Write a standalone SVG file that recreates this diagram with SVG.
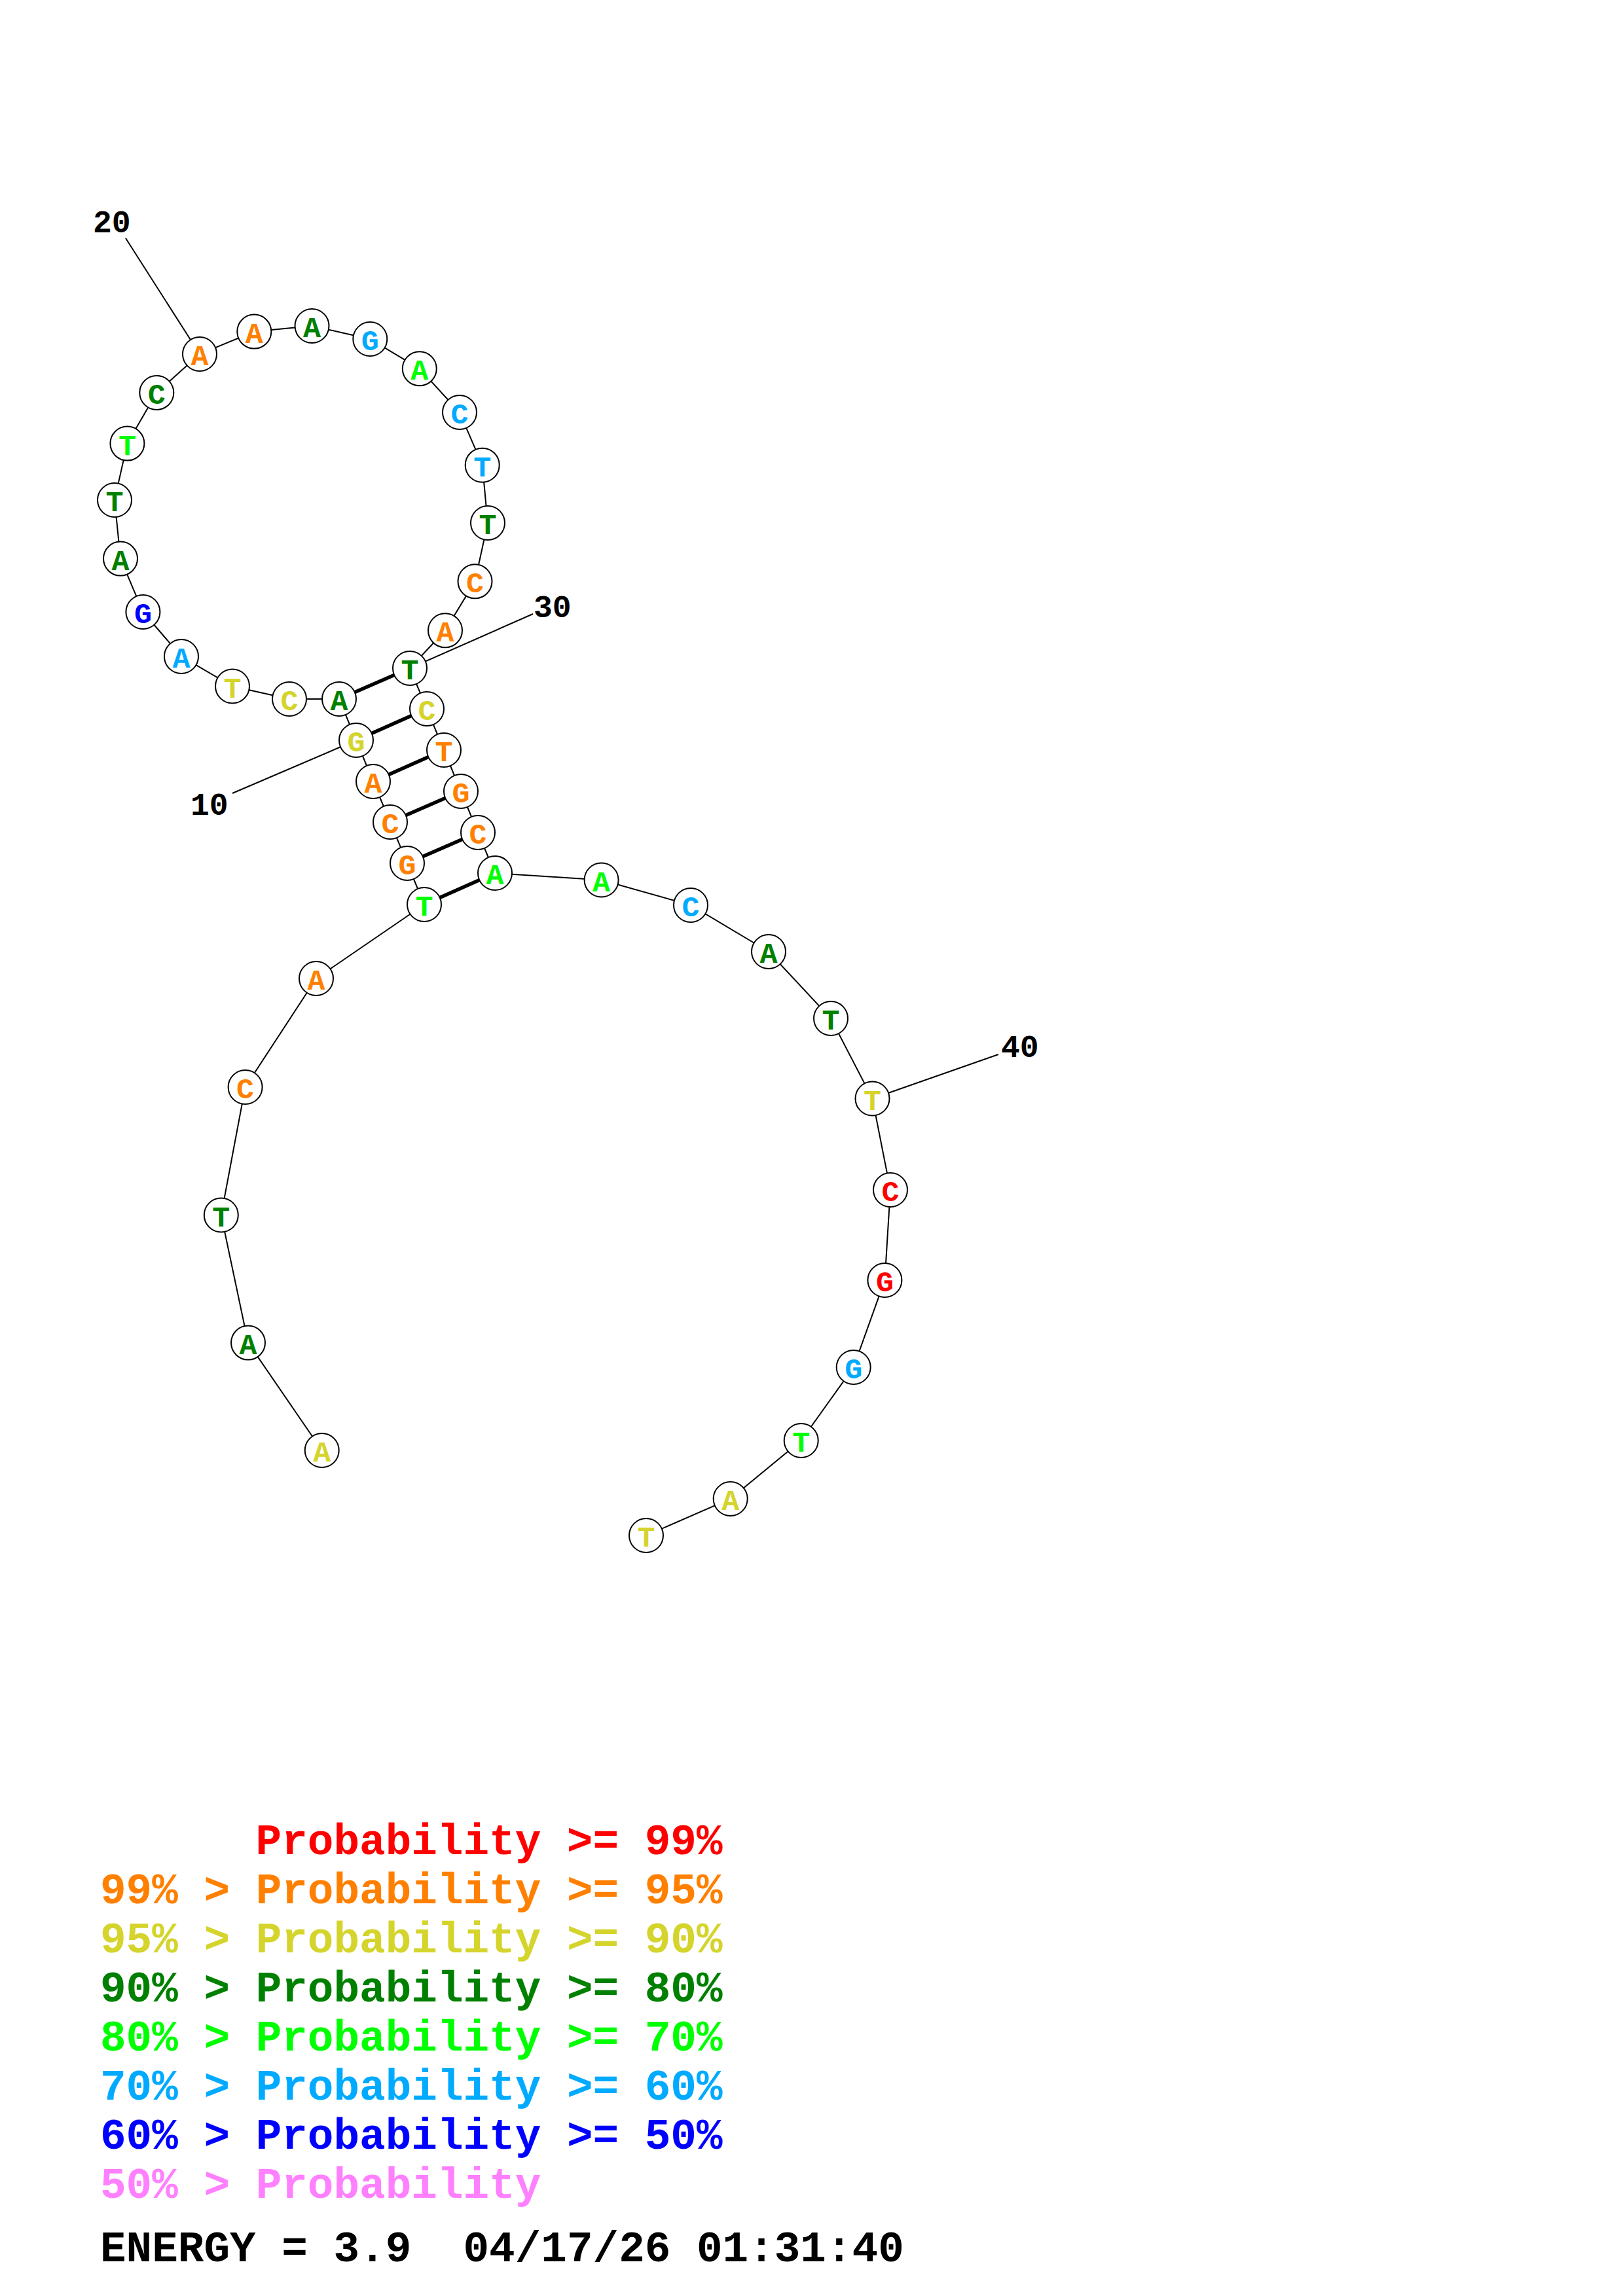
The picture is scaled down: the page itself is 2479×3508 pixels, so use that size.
<svg xmlns="http://www.w3.org/2000/svg" width="2479" height="3508" viewBox="0 0 2479 3508">
<style>
.bb{stroke:#000;stroke-width:2;fill:none}
.pr{stroke:#000;stroke-width:5.5;fill:none}
.lb{stroke:#000;stroke-width:2;fill:none}
.nd circle{fill:#fff;stroke:#000;stroke-width:2}
.nd text{font-family:"Liberation Mono","DejaVu Sans Mono",monospace;font-weight:bold;font-size:45px;text-anchor:middle}
.num{font-family:"Liberation Mono","DejaVu Sans Mono",monospace;font-weight:bold;font-size:48px;fill:#000}
.lg text{font-family:"Liberation Mono","DejaVu Sans Mono",monospace;font-weight:bold;font-size:66px;white-space:pre}
.R{fill:#ff0000}.O{fill:#ff8000}.Y{fill:#d4d42c}.G{fill:#008000}.L{fill:#00ff00}.S{fill:#00aaff}.B{fill:#0000ff}.P{fill:#ff80ff}.K{fill:#000}
</style>
<rect width="2479" height="3508" fill="#fff"/>
<g id="connectors">
<polyline class="bb" points="491.7,2216 379,2051.6 337.8,1856.5 374.6,1661 483,1495 648,1382 622,1319 596,1256 570,1194 544,1131 518,1068 442,1068 355,1048.5 277,1003 218.4,935 184,853.6 175,764 194.4,677.6 239.3,600 305,541 388.3,506.6 476.5,498 565.3,518 640.8,563.3 702,630 736.7,710.7 745,799 725.5,888.3 680,963.3 626,1021 652,1083 678,1146 704,1209 730,1272 756,1334 918.6,1344.5 1055,1383 1174,1454 1269,1556 1332.5,1678.5 1360,1818 1351.4,1956 1303.7,2089 1223.7,2201 1115.7,2290 987,2346"/>
<line class="pr" x1="648" y1="1382" x2="756" y2="1334"/>
<line class="pr" x1="622" y1="1319" x2="730" y2="1272"/>
<line class="pr" x1="596" y1="1256" x2="704" y2="1209"/>
<line class="pr" x1="570" y1="1194" x2="678" y2="1146"/>
<line class="pr" x1="544" y1="1131" x2="652" y2="1083"/>
<line class="pr" x1="518" y1="1068" x2="626" y2="1021"/>
<line class="lb" x1="544" y1="1131" x2="355" y2="1212"/>
<line class="lb" x1="305" y1="541" x2="192" y2="364"/>
<line class="lb" x1="626" y1="1021" x2="814" y2="938"/>
<line class="lb" x1="1332.5" y1="1678.5" x2="1525" y2="1611"/>
</g>
<g id="labels">
<text class="num" x="291" y="1245">10</text>
<text class="num" x="142" y="355">20</text>
<text class="num" x="815" y="943">30</text>
<text class="num" x="1529" y="1615">40</text>
</g>
<g id="nodes">
<g id="n1" class="nd"><circle cx="491.7" cy="2216" r="26"/><text class="Y" x="491.7" y="2233">A</text></g>
<g id="n2" class="nd"><circle cx="379" cy="2051.6" r="26"/><text class="G" x="379" y="2068.6">A</text></g>
<g id="n3" class="nd"><circle cx="337.8" cy="1856.5" r="26"/><text class="G" x="337.8" y="1873.5">T</text></g>
<g id="n4" class="nd"><circle cx="374.6" cy="1661" r="26"/><text class="O" x="374.6" y="1678">C</text></g>
<g id="n5" class="nd"><circle cx="483" cy="1495" r="26"/><text class="O" x="483" y="1512">A</text></g>
<g id="n6" class="nd"><circle cx="648" cy="1382" r="26"/><text class="L" x="648" y="1399">T</text></g>
<g id="n7" class="nd"><circle cx="622" cy="1319" r="26"/><text class="O" x="622" y="1336">G</text></g>
<g id="n8" class="nd"><circle cx="596" cy="1256" r="26"/><text class="O" x="596" y="1273">C</text></g>
<g id="n9" class="nd"><circle cx="570" cy="1194" r="26"/><text class="O" x="570" y="1211">A</text></g>
<g id="n10" class="nd"><circle cx="544" cy="1131" r="26"/><text class="Y" x="544" y="1148">G</text></g>
<g id="n11" class="nd"><circle cx="518" cy="1068" r="26"/><text class="G" x="518" y="1085">A</text></g>
<g id="n12" class="nd"><circle cx="442" cy="1068" r="26"/><text class="Y" x="442" y="1085">C</text></g>
<g id="n13" class="nd"><circle cx="355" cy="1048.5" r="26"/><text class="Y" x="355" y="1065.5">T</text></g>
<g id="n14" class="nd"><circle cx="277" cy="1003" r="26"/><text class="S" x="277" y="1020">A</text></g>
<g id="n15" class="nd"><circle cx="218.4" cy="935" r="26"/><text class="B" x="218.4" y="952">G</text></g>
<g id="n16" class="nd"><circle cx="184" cy="853.6" r="26"/><text class="G" x="184" y="870.6">A</text></g>
<g id="n17" class="nd"><circle cx="175" cy="764" r="26"/><text class="G" x="175" y="781">T</text></g>
<g id="n18" class="nd"><circle cx="194.4" cy="677.6" r="26"/><text class="L" x="194.4" y="694.6">T</text></g>
<g id="n19" class="nd"><circle cx="239.3" cy="600" r="26"/><text class="G" x="239.3" y="617">C</text></g>
<g id="n20" class="nd"><circle cx="305" cy="541" r="26"/><text class="O" x="305" y="558">A</text></g>
<g id="n21" class="nd"><circle cx="388.3" cy="506.6" r="26"/><text class="O" x="388.3" y="523.6">A</text></g>
<g id="n22" class="nd"><circle cx="476.5" cy="498" r="26"/><text class="G" x="476.5" y="515">A</text></g>
<g id="n23" class="nd"><circle cx="565.3" cy="518" r="26"/><text class="S" x="565.3" y="535">G</text></g>
<g id="n24" class="nd"><circle cx="640.8" cy="563.3" r="26"/><text class="L" x="640.8" y="580.3">A</text></g>
<g id="n25" class="nd"><circle cx="702" cy="630" r="26"/><text class="S" x="702" y="647">C</text></g>
<g id="n26" class="nd"><circle cx="736.7" cy="710.7" r="26"/><text class="S" x="736.7" y="727.7">T</text></g>
<g id="n27" class="nd"><circle cx="745" cy="799" r="26"/><text class="G" x="745" y="816">T</text></g>
<g id="n28" class="nd"><circle cx="725.5" cy="888.3" r="26"/><text class="O" x="725.5" y="905.3">C</text></g>
<g id="n29" class="nd"><circle cx="680" cy="963.3" r="26"/><text class="O" x="680" y="980.3">A</text></g>
<g id="n30" class="nd"><circle cx="626" cy="1021" r="26"/><text class="G" x="626" y="1038">T</text></g>
<g id="n31" class="nd"><circle cx="652" cy="1083" r="26"/><text class="Y" x="652" y="1100">C</text></g>
<g id="n32" class="nd"><circle cx="678" cy="1146" r="26"/><text class="O" x="678" y="1163">T</text></g>
<g id="n33" class="nd"><circle cx="704" cy="1209" r="26"/><text class="O" x="704" y="1226">G</text></g>
<g id="n34" class="nd"><circle cx="730" cy="1272" r="26"/><text class="O" x="730" y="1289">C</text></g>
<g id="n35" class="nd"><circle cx="756" cy="1334" r="26"/><text class="L" x="756" y="1351">A</text></g>
<g id="n36" class="nd"><circle cx="918.6" cy="1344.5" r="26"/><text class="L" x="918.6" y="1361.5">A</text></g>
<g id="n37" class="nd"><circle cx="1055" cy="1383" r="26"/><text class="S" x="1055" y="1400">C</text></g>
<g id="n38" class="nd"><circle cx="1174" cy="1454" r="26"/><text class="G" x="1174" y="1471">A</text></g>
<g id="n39" class="nd"><circle cx="1269" cy="1556" r="26"/><text class="G" x="1269" y="1573">T</text></g>
<g id="n40" class="nd"><circle cx="1332.5" cy="1678.5" r="26"/><text class="Y" x="1332.5" y="1695.5">T</text></g>
<g id="n41" class="nd"><circle cx="1360" cy="1818" r="26"/><text class="R" x="1360" y="1835">C</text></g>
<g id="n42" class="nd"><circle cx="1351.4" cy="1956" r="26"/><text class="R" x="1351.4" y="1973">G</text></g>
<g id="n43" class="nd"><circle cx="1303.7" cy="2089" r="26"/><text class="S" x="1303.7" y="2106">G</text></g>
<g id="n44" class="nd"><circle cx="1223.7" cy="2201" r="26"/><text class="L" x="1223.7" y="2218">T</text></g>
<g id="n45" class="nd"><circle cx="1115.7" cy="2290" r="26"/><text class="Y" x="1115.7" y="2307">A</text></g>
<g id="n46" class="nd"><circle cx="987" cy="2346" r="26"/><text class="Y" x="987" y="2363">T</text></g>
</g>
<g id="legend" class="lg">
<text class="R" x="390.6" y="2833">Probability &gt;= 99%</text>
<text class="O" x="153" y="2908">99% &gt; Probability &gt;= 95%</text>
<text class="Y" x="153" y="2983">95% &gt; Probability &gt;= 90%</text>
<text class="G" x="153" y="3058">90% &gt; Probability &gt;= 80%</text>
<text class="L" x="153" y="3133">80% &gt; Probability &gt;= 70%</text>
<text class="S" x="153" y="3208">70% &gt; Probability &gt;= 60%</text>
<text class="B" x="153" y="3283">60% &gt; Probability &gt;= 50%</text>
<text class="P" x="153" y="3358">50% &gt; Probability</text>
<text class="K" x="153" y="3455" xml:space="preserve">ENERGY = 3.9  04/17/26 01:31:40</text>
</g>
</svg>
